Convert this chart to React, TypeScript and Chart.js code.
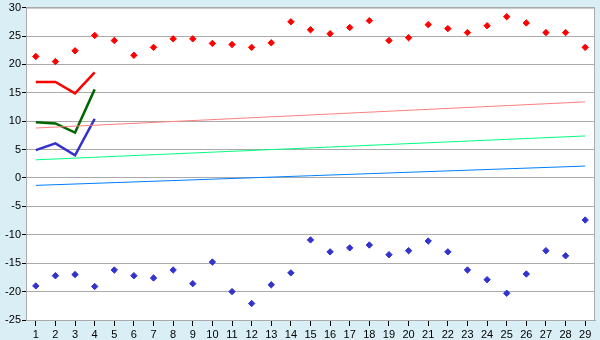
import React, { useEffect, useRef } from "react";
import { Chart, registerables } from "chart.js";

Chart.register(...registerables);

const days = ["1","2","3","4","5","6","7","8","9","10","11","12","13","14","15","16","17","18","19","20","21","22","23","24","25","26","27","28","29"];
const maxPoints = [21.4,20.5,22.4,25.1,24.2,21.6,23.0,24.5,24.5,23.7,23.5,23.0,23.8,27.5,26.1,25.4,26.5,27.7,24.2,24.7,27.0,26.3,25.6,26.8,28.4,27.3,25.6,25.6,23.0];
const minPoints = [-19.0,-17.2,-17.0,-19.1,-16.2,-17.2,-17.6,-16.2,-18.6,-14.8,-20.0,-22.1,-18.8,-16.7,-10.9,-13.0,-12.3,-11.8,-13.5,-12.8,-11.1,-13.0,-16.2,-17.9,-20.3,-16.9,-12.8,-13.7,-7.4];
const maxLine = [16.9,16.9,14.9,18.6];
const avgLine = [9.8,9.6,8.0,15.6];
const minLine = [4.9,6.1,4.0,10.4];
const maxTrendEnds = [8.8,13.4];
const avgTrendEnds = [3.2,7.4];
const minTrendEnds = [-1.3,2.1];
const yTicks = { min: -25, max: 30, step: 5 };

function ends(v: number[]) {
  return days.map((_, i) => (i === 0 ? v[0] : i === days.length - 1 ? v[1] : null));
}

const bgPlugin = {
  id: "bg",
  beforeDraw(chart: any) {
    const { ctx, chartArea } = chart;
    ctx.save();
    ctx.fillStyle = "#d9eff5";
    ctx.fillRect(0, 0, chart.width, chart.height);
    ctx.fillStyle = "#ffffff";
    ctx.fillRect(chartArea.left, chartArea.top, chartArea.right - chartArea.left, chartArea.bottom - chartArea.top);
    ctx.restore();
  },
  beforeDatasetsDraw(chart: any) {
    const { ctx, chartArea } = chart;
    ctx.save();
    ctx.strokeStyle = "#aaaaaa";
    ctx.lineWidth = 1;
    ctx.strokeRect(chartArea.left + 0.5, chartArea.top + 0.5, chartArea.right - chartArea.left - 1, chartArea.bottom - chartArea.top);
    ctx.restore();
  },
};

export default function App() {
  const ref = useRef<HTMLCanvasElement>(null);
  useEffect(() => {
    document.body.style.margin = "0";
    const pt = { showLine: false, pointStyle: "rectRot", pointRadius: 3.2, pointBorderWidth: 1 };
    const thick = { borderWidth: 2.5, pointRadius: 0, tension: 0, fill: false };
    const thin = { borderWidth: 1, pointRadius: 0, spanGaps: true, fill: false };
    const font = { family: "Liberation Sans", size: 11 };
    const chart = new Chart(ref.current!, {
      type: "line",
      data: {
        labels: days,
        datasets: [
          { ...thin, data: ends(maxTrendEnds), borderColor: "#ff8080" },
          { ...thin, data: ends(avgTrendEnds), borderColor: "#00ff80" },
          { ...thin, data: ends(minTrendEnds), borderColor: "#0080ff" },
          { ...thick, data: maxLine, borderColor: "#ff0000" },
          { ...thick, data: avgLine, borderColor: "#006600" },
          { ...thick, data: minLine, borderColor: "#3333cc" },
          { ...pt, data: maxPoints, borderColor: "#ff0000", backgroundColor: "#ff0000" },
          { ...pt, data: minPoints, borderColor: "#3333cc", backgroundColor: "#3333cc" },
        ] as any,
      },
      options: {
        animation: false,
        responsive: false,
        events: [],
        layout: { padding: { top: 5, right: 5, left: 0, bottom: 0 } },
        plugins: { legend: { display: false }, tooltip: { enabled: false } },
        scales: {
          x: {
            offset: true,
            grid: { drawOnChartArea: false, drawTicks: true, tickLength: 6, tickColor: "#000000", offset: false },
            border: { color: "#aaaaaa" },
            ticks: { color: "#000000", font, padding: 2, maxRotation: 0, autoSkip: false },
            afterFit(s: any) { s.height = 20; },
          },
          y: {
            min: yTicks.min,
            max: yTicks.max,
            grid: { color: "#aaaaaa", drawTicks: true, tickLength: 4, tickColor: "#000000" },
            border: { color: "#aaaaaa" },
            ticks: { stepSize: yTicks.step, color: "#000000", font, padding: 1 },
            afterFit(s: any) { s.width = 26; },
          },
        },
      },
      plugins: [bgPlugin],
    });
    return () => chart.destroy();
  }, []);
  return (
    <div style={{ width: 600, height: 340 }}>
      <canvas ref={ref} width={600} height={340} />
    </div>
  );
}
